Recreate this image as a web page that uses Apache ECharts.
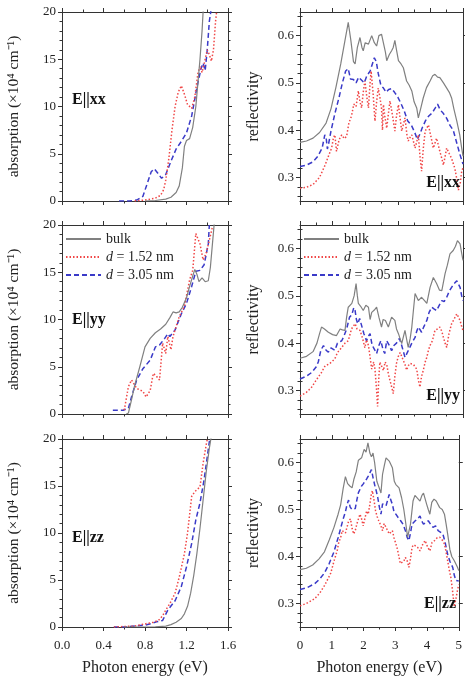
<!DOCTYPE html>
<html><head><meta charset="utf-8">
<script src="https://cdn.jsdelivr.net/npm/echarts@6/dist/echarts.min.js"></script>
<style>html,body{margin:0;padding:0;background:#fff}#c{width:465px;height:679px}</style>
</head><body><div id="c"></div>
<script>
// ---------- absorption (x1e4 cm^-1) vs photon energy (eV) ----------
const absXX_bulk = [[0.8,0],[0.9,0.05],[1.0,0.2],[1.05,0.4],[1.1,0.9],[1.13,1.6],[1.16,3.5],[1.18,5.8],[1.2,6.4],[1.23,6.6],[1.26,7.8],[1.29,10],[1.31,12.5],[1.33,15],[1.35,18],[1.36,20],[1.38,22]];
const absXX_d152 = [[0.7,0],[0.8,0.1],[0.9,0.3],[0.95,0.6],[0.98,1.2],[1.0,2.2],[1.03,4.5],[1.06,7.5],[1.09,10],[1.12,11.5],[1.15,12.2],[1.18,11.3],[1.21,10.2],[1.25,9.8],[1.28,11],[1.31,13.5],[1.33,14.3],[1.35,13.6],[1.37,14.5],[1.4,16],[1.42,15.5],[1.44,14.8],[1.46,16],[1.48,19],[1.5,21]];
const absXX_d305 = [[0.55,0],[0.65,0],[0.72,0.1],[0.78,0.5],[0.82,1.8],[0.86,3.1],[0.89,3.4],[0.92,3.0],[0.96,2.4],[1.0,2.8],[1.05,4.2],[1.1,5.5],[1.15,6.3],[1.2,7.2],[1.25,9.0],[1.3,12],[1.34,14],[1.36,14.6],[1.38,13.8],[1.4,16],[1.42,19],[1.44,20.5]];

const absYY_bulk = [[0.62,0],[0.64,0.1],[0.67,1.5],[0.7,3],[0.75,5],[0.8,7.1],[0.85,8.0],[0.9,8.6],[0.95,9.0],[1.0,9.5],[1.04,10.2],[1.07,10.8],[1.1,10.7],[1.13,10.8],[1.16,11.3],[1.2,12.3],[1.23,13.5],[1.26,14.6],[1.28,15.3],[1.3,14.8],[1.32,14.0],[1.35,14.4],[1.38,14.0],[1.41,14.1],[1.43,15.5],[1.45,18],[1.47,20.5]];
const absYY_d152 = [[0.6,0.4],[0.64,2.9],[0.67,3.6],[0.72,2.7],[0.78,2.4],[0.81,1.8],[0.85,2.5],[0.88,4.3],[0.91,4.0],[0.94,3.6],[0.97,7.5],[1.0,6.4],[1.02,8.2],[1.05,6.8],[1.07,8.2],[1.13,10.3],[1.18,11.4],[1.23,14.2],[1.26,15.2],[1.29,19.1],[1.33,18],[1.36,16.3],[1.39,17],[1.42,18.4],[1.45,19.8]];
const absYY_d305 = [[0.49,0.4],[0.59,0.4],[0.64,0.6],[0.67,1.8],[0.72,3.6],[0.78,4.8],[0.85,5.7],[0.9,7.1],[0.94,7.3],[0.99,8.0],[1.02,8.5],[1.04,8.2],[1.09,8.9],[1.15,10.6],[1.2,11.7],[1.25,13.5],[1.29,15.1],[1.33,15.2],[1.37,15.8],[1.41,18],[1.42,20]];

const absZZ_bulk = [[0.6,0],[0.8,0],[0.9,0.02],[1.0,0.1],[1.05,0.25],[1.1,0.5],[1.15,0.9],[1.18,1.4],[1.21,2.2],[1.24,3.6],[1.27,5.5],[1.3,7.8],[1.33,10.5],[1.36,13.5],[1.39,16.5],[1.42,19],[1.45,21]];
const absZZ_d152 = [[0.5,0],[0.7,0.1],[0.81,0.35],[0.88,0.5],[0.93,0.7],[0.97,1.2],[1.0,1.8],[1.04,2.5],[1.09,3.6],[1.13,5.3],[1.18,7.8],[1.21,10],[1.25,13.9],[1.28,14.4],[1.33,14.9],[1.36,17.4],[1.39,19.4],[1.41,20.5]];
const absZZ_d305 = [[0.5,0],[0.6,0],[0.8,0.2],[0.86,0.35],[0.91,0.55],[0.97,0.7],[1.02,1.8],[1.09,2.8],[1.15,4.3],[1.2,6.4],[1.25,8.9],[1.29,11.4],[1.33,13.2],[1.37,15.7],[1.41,18.9],[1.43,20.5]];

// ---------- reflectivity vs photon energy (eV) ----------
const refXX_bulk = [[0,0.374],[0.2,0.377],[0.4,0.383],[0.6,0.395],[0.8,0.415],[0.95,0.445],[1.1,0.49],[1.25,0.54],[1.38,0.59],[1.48,0.628],[1.56,0.59],[1.64,0.545],[1.69,0.54],[1.76,0.575],[1.84,0.596],[1.9,0.575],[1.94,0.568],[2.0,0.585],[2.04,0.589],[2.1,0.582],[2.2,0.6],[2.28,0.585],[2.35,0.578],[2.42,0.6],[2.5,0.603],[2.56,0.6],[2.62,0.565],[2.66,0.547],[2.74,0.56],[2.81,0.568],[2.86,0.575],[2.91,0.59],[2.96,0.57],[3.02,0.547],[3.1,0.54],[3.17,0.532],[3.27,0.504],[3.35,0.495],[3.43,0.483],[3.5,0.46],[3.58,0.447],[3.63,0.426],[3.7,0.445],[3.78,0.468],[3.88,0.49],[3.99,0.504],[4.07,0.515],[4.14,0.518],[4.22,0.512],[4.29,0.511],[4.4,0.5],[4.5,0.489],[4.58,0.48],[4.65,0.468],[4.72,0.445],[4.81,0.419],[4.9,0.39],[4.96,0.362],[5.0,0.345]];
const refXX_d152 = [[0,0.277],[0.2,0.279],[0.4,0.285],[0.6,0.3],[0.77,0.326],[0.9,0.35],[0.97,0.362],[1.03,0.385],[1.07,0.39],[1.12,0.355],[1.2,0.38],[1.28,0.39],[1.36,0.382],[1.43,0.387],[1.5,0.415],[1.58,0.43],[1.65,0.455],[1.72,0.45],[1.79,0.483],[1.84,0.46],[1.89,0.447],[1.94,0.48],[1.99,0.504],[2.05,0.47],[2.1,0.447],[2.15,0.5],[2.18,0.525],[2.24,0.48],[2.3,0.419],[2.35,0.46],[2.4,0.489],[2.45,0.47],[2.5,0.447],[2.53,0.4],[2.56,0.454],[2.6,0.43],[2.66,0.404],[2.72,0.44],[2.76,0.462],[2.84,0.43],[2.91,0.398],[2.96,0.43],[3.02,0.454],[3.08,0.42],[3.12,0.398],[3.22,0.426],[3.28,0.39],[3.32,0.377],[3.38,0.385],[3.43,0.39],[3.53,0.362],[3.58,0.375],[3.63,0.39],[3.68,0.345],[3.73,0.313],[3.78,0.36],[3.84,0.398],[3.94,0.411],[4.02,0.385],[4.09,0.362],[4.19,0.383],[4.29,0.355],[4.35,0.34],[4.4,0.326],[4.5,0.362],[4.58,0.35],[4.65,0.34],[4.75,0.319],[4.8,0.3],[4.86,0.273],[4.92,0.29],[4.96,0.313],[5.0,0.32]];
const refXX_d305 = [[0,0.323],[0.2,0.326],[0.4,0.333],[0.55,0.345],[0.68,0.362],[0.76,0.39],[0.8,0.385],[0.84,0.36],[0.88,0.372],[0.95,0.398],[1.07,0.435],[1.2,0.47],[1.3,0.5],[1.4,0.525],[1.48,0.53],[1.55,0.508],[1.64,0.507],[1.72,0.5],[1.8,0.512],[1.9,0.505],[1.97,0.5],[2.05,0.515],[2.15,0.525],[2.22,0.54],[2.28,0.553],[2.34,0.545],[2.4,0.52],[2.48,0.495],[2.56,0.489],[2.64,0.48],[2.72,0.486],[2.81,0.488],[2.9,0.48],[3.0,0.47],[3.1,0.456],[3.2,0.44],[3.3,0.42],[3.42,0.41],[3.52,0.395],[3.6,0.38],[3.68,0.392],[3.75,0.405],[3.85,0.42],[3.95,0.43],[4.05,0.436],[4.15,0.447],[4.22,0.455],[4.3,0.443],[4.4,0.435],[4.5,0.425],[4.6,0.41],[4.7,0.4],[4.8,0.375],[4.9,0.35],[5.0,0.328]];

const refYY_bulk = [[0,0.368],[0.2,0.372],[0.4,0.382],[0.52,0.4],[0.6,0.42],[0.66,0.434],[0.75,0.43],[0.87,0.423],[1.0,0.418],[1.12,0.416],[1.23,0.43],[1.3,0.428],[1.38,0.427],[1.43,0.455],[1.48,0.476],[1.59,0.484],[1.66,0.5],[1.72,0.526],[1.76,0.5],[1.79,0.484],[1.86,0.478],[1.94,0.469],[2.02,0.48],[2.1,0.476],[2.15,0.45],[2.2,0.465],[2.28,0.47],[2.35,0.476],[2.42,0.455],[2.5,0.434],[2.55,0.45],[2.62,0.448],[2.71,0.434],[2.81,0.455],[2.91,0.448],[2.96,0.43],[3.02,0.42],[3.12,0.399],[3.22,0.427],[3.28,0.405],[3.32,0.391],[3.38,0.41],[3.43,0.434],[3.48,0.47],[3.53,0.505],[3.63,0.49],[3.73,0.497],[3.82,0.49],[3.89,0.484],[3.99,0.518],[4.09,0.539],[4.19,0.526],[4.28,0.512],[4.35,0.511],[4.45,0.547],[4.52,0.565],[4.6,0.589],[4.7,0.596],[4.77,0.605],[4.83,0.617],[4.91,0.61],[4.96,0.59],[5.0,0.575]];
const refYY_d152 = [[0,0.288],[0.2,0.296],[0.36,0.307],[0.5,0.322],[0.66,0.338],[0.77,0.352],[0.87,0.355],[0.97,0.36],[1.07,0.367],[1.15,0.38],[1.28,0.391],[1.38,0.4],[1.48,0.405],[1.58,0.43],[1.69,0.441],[1.75,0.43],[1.84,0.427],[1.92,0.41],[1.99,0.39],[2.04,0.407],[2.1,0.395],[2.15,0.37],[2.2,0.345],[2.26,0.36],[2.3,0.345],[2.35,0.3],[2.38,0.266],[2.42,0.33],[2.45,0.36],[2.5,0.364],[2.56,0.342],[2.61,0.36],[2.66,0.355],[2.71,0.335],[2.76,0.321],[2.82,0.305],[2.86,0.293],[2.91,0.33],[2.96,0.357],[3.01,0.371],[3.07,0.38],[3.12,0.372],[3.17,0.363],[3.22,0.355],[3.27,0.343],[3.32,0.352],[3.37,0.357],[3.42,0.36],[3.48,0.355],[3.53,0.35],[3.58,0.345],[3.63,0.322],[3.68,0.307],[3.73,0.33],[3.78,0.342],[3.84,0.36],[3.89,0.37],[3.94,0.385],[3.99,0.395],[4.06,0.405],[4.14,0.427],[4.22,0.43],[4.29,0.434],[4.35,0.425],[4.4,0.412],[4.45,0.4],[4.5,0.391],[4.57,0.42],[4.65,0.441],[4.72,0.45],[4.81,0.462],[4.86,0.455],[4.91,0.448],[4.96,0.435],[5.0,0.427]];
const refYY_d305 = [[0,0.324],[0.2,0.33],[0.36,0.338],[0.5,0.35],[0.56,0.36],[0.64,0.385],[0.72,0.395],[0.8,0.385],[0.87,0.381],[0.95,0.39],[1.07,0.385],[1.15,0.4],[1.28,0.405],[1.35,0.415],[1.43,0.43],[1.52,0.455],[1.59,0.46],[1.65,0.475],[1.69,0.469],[1.73,0.45],[1.77,0.441],[1.83,0.452],[1.89,0.448],[1.96,0.42],[2.04,0.405],[2.1,0.415],[2.15,0.42],[2.2,0.4],[2.25,0.391],[2.35,0.378],[2.42,0.395],[2.48,0.405],[2.55,0.385],[2.6,0.378],[2.66,0.405],[2.74,0.395],[2.81,0.384],[2.88,0.395],[2.96,0.4],[3.05,0.41],[3.12,0.395],[3.22,0.37],[3.32,0.384],[3.43,0.4],[3.53,0.412],[3.58,0.425],[3.63,0.434],[3.73,0.423],[3.8,0.435],[3.89,0.448],[3.96,0.465],[4.04,0.476],[4.12,0.472],[4.19,0.469],[4.27,0.48],[4.35,0.49],[4.42,0.488],[4.5,0.497],[4.58,0.51],[4.65,0.518],[4.73,0.526],[4.81,0.532],[4.87,0.528],[4.91,0.518],[4.96,0.5],[5.0,0.49]];

const refZZ_bulk = [[0,0.372],[0.2,0.375],[0.4,0.382],[0.6,0.395],[0.77,0.41],[0.92,0.435],[1.07,0.462],[1.2,0.49],[1.28,0.51],[1.36,0.545],[1.43,0.57],[1.5,0.555],[1.57,0.55],[1.64,0.546],[1.7,0.565],[1.77,0.58],[1.84,0.605],[1.94,0.61],[2.02,0.628],[2.08,0.622],[2.14,0.642],[2.2,0.62],[2.25,0.612],[2.3,0.62],[2.35,0.6],[2.42,0.56],[2.5,0.545],[2.55,0.535],[2.6,0.575],[2.66,0.595],[2.71,0.61],[2.81,0.603],[2.91,0.589],[2.97,0.56],[3.02,0.553],[3.12,0.546],[3.2,0.525],[3.27,0.5],[3.32,0.476],[3.39,0.441],[3.44,0.445],[3.48,0.469],[3.56,0.518],[3.62,0.53],[3.68,0.532],[3.78,0.518],[3.84,0.53],[3.89,0.535],[3.99,0.511],[4.04,0.5],[4.09,0.49],[4.15,0.515],[4.22,0.522],[4.29,0.518],[4.4,0.504],[4.48,0.5],[4.55,0.49],[4.6,0.47],[4.65,0.448],[4.72,0.415],[4.78,0.4],[4.86,0.391],[4.92,0.395],[4.96,0.377],[5.0,0.37]];
const refZZ_d152 = [[0,0.295],[0.2,0.3],[0.46,0.31],[0.62,0.322],[0.77,0.338],[0.9,0.355],[0.97,0.365],[1.07,0.39],[1.17,0.412],[1.22,0.43],[1.28,0.44],[1.33,0.455],[1.38,0.451],[1.43,0.45],[1.48,0.462],[1.53,0.475],[1.59,0.48],[1.64,0.46],[1.69,0.448],[1.74,0.455],[1.79,0.469],[1.84,0.48],[1.89,0.49],[1.94,0.48],[1.99,0.465],[2.04,0.48],[2.1,0.497],[2.15,0.49],[2.2,0.511],[2.24,0.53],[2.28,0.54],[2.33,0.52],[2.38,0.497],[2.43,0.485],[2.48,0.476],[2.55,0.465],[2.6,0.455],[2.65,0.47],[2.71,0.469],[2.76,0.455],[2.81,0.448],[2.86,0.452],[2.91,0.455],[2.96,0.44],[3.02,0.427],[3.07,0.415],[3.12,0.412],[3.16,0.385],[3.22,0.384],[3.27,0.39],[3.32,0.398],[3.38,0.39],[3.43,0.377],[3.48,0.395],[3.53,0.42],[3.58,0.425],[3.63,0.427],[3.7,0.42],[3.78,0.412],[3.86,0.425],[3.94,0.434],[4.02,0.42],[4.09,0.412],[4.16,0.43],[4.24,0.434],[4.32,0.44],[4.4,0.441],[4.48,0.435],[4.55,0.427],[4.6,0.41],[4.65,0.391],[4.7,0.372],[4.75,0.356],[4.8,0.33],[4.86,0.293],[4.91,0.31],[4.96,0.328],[5.0,0.34]];
const refZZ_d305 = [[0,0.33],[0.2,0.333],[0.46,0.342],[0.62,0.352],[0.77,0.365],[0.92,0.385],[1.07,0.41],[1.2,0.44],[1.28,0.46],[1.36,0.48],[1.43,0.495],[1.48,0.51],[1.53,0.52],[1.58,0.505],[1.64,0.5],[1.7,0.498],[1.74,0.502],[1.79,0.52],[1.84,0.536],[1.89,0.54],[1.94,0.55],[2.0,0.555],[2.04,0.56],[2.1,0.565],[2.15,0.571],[2.2,0.578],[2.25,0.585],[2.3,0.568],[2.35,0.553],[2.4,0.54],[2.45,0.525],[2.5,0.505],[2.55,0.49],[2.6,0.512],[2.66,0.515],[2.71,0.508],[2.76,0.52],[2.81,0.532],[2.86,0.52],[2.91,0.511],[2.96,0.495],[3.02,0.49],[3.1,0.482],[3.17,0.476],[3.25,0.468],[3.32,0.455],[3.38,0.44],[3.43,0.434],[3.48,0.45],[3.53,0.469],[3.58,0.472],[3.63,0.476],[3.7,0.48],[3.78,0.486],[3.84,0.475],[3.89,0.469],[3.96,0.472],[4.04,0.476],[4.12,0.468],[4.19,0.462],[4.27,0.465],[4.35,0.455],[4.42,0.452],[4.5,0.448],[4.57,0.43],[4.65,0.405],[4.72,0.39],[4.81,0.377],[4.86,0.36],[4.91,0.349],[4.96,0.35],[5.0,0.348]];

// ---------- tick values / labels ----------
const reflMajorTicks = [0.3, 0.4, 0.5, 0.6];
const reflMinorTicks = [0.26,0.28,0.32,0.34,0.36,0.38,0.42,0.44,0.46,0.48,0.52,0.54,0.56,0.58,0.62,0.64];
const seriesNames = ['bulk', 'd = 1.52 nm', 'd = 3.05 nm'];
const panelLabels = ['E||xx', 'E||yy', 'E||zz'];

const FONT = '"Liberation Serif", "Times New Roman", serif';
const AX = '#333';
const COLORS = ['#808080', '#f04646', '#3a3ac8'];
const LTYPES = ['solid', [1.5, 2], [5, 3]];
const LWIDTH = [1.2, 1.5, 1.5];

const gridPos = [
  {left: 62, top: 12, width: 166, height: 189},
  {left: 300, top: 12, width: 163, height: 189},
  {left: 62, top: 225, width: 166, height: 189},
  {left: 300, top: 225, width: 163, height: 189},
  {left: 62, top: 439, width: 166, height: 188},
  {left: 300, top: 439, width: 163, height: 188}
];
const panelData = [
  [absXX_bulk, absXX_d152, absXX_d305], [refXX_bulk, refXX_d152, refXX_d305],
  [absYY_bulk, absYY_d152, absYY_d305], [refYY_bulk, refYY_d152, refYY_d305],
  [absZZ_bulk, absZZ_d152, absZZ_d305], [refZZ_bulk, refZZ_d152, refZZ_d305]
];

const baseAxis = () => ({
  type: 'value',
  axisLine: {show: true, onZero: false, lineStyle: {color: AX, width: 1}},
  axisTick: {show: true, inside: false, length: 4, lineStyle: {color: AX, width: 1}},
  minorTick: {show: false},
  splitLine: {show: false},
  axisLabel: {show: false},
});

const xAxes = [], yAxes = [], series = [];
gridPos.forEach((g, gi) => {
  const isRefl = gi % 2 === 1;
  const row = Math.floor(gi / 2);
  const xIdx = xAxes.length;
  ['bottom', 'top'].forEach(pos => {
    const a = Object.assign(baseAxis(), {
      gridIndex: gi, position: pos,
      min: 0, max: isRefl ? 5 : 1.6, interval: isRefl ? 1 : 0.4,
      minorTick: {show: true, splitNumber: 2, length: 2.5, lineStyle: {color: AX, width: 1}}
    });
    if (pos === 'bottom' && row === 2) {
      a.axisLabel = {show: true, fontFamily: FONT, fontSize: 13, color: '#222', margin: 12,
        formatter: v => isRefl ? String(Math.round(v)) : v.toFixed(1)};
      a.name = 'Photon energy (eV)';
      a.nameLocation = 'middle';
      a.nameGap = 33;
      a.nameTextStyle = {fontFamily: FONT, fontSize: 16, color: '#222'};
    }
    xAxes.push(a);
  });
  const yIdx = yAxes.length;
  if (!isRefl) {
    ['left', 'right'].forEach(pos => {
      const a = Object.assign(baseAxis(), {
        gridIndex: gi, position: pos, min: 0, max: 20, interval: 5,
        minorTick: {show: true, splitNumber: 5, length: 2.5, lineStyle: {color: AX, width: 1}}
      });
      if (pos === 'left') {
        a.axisLabel = {show: true, fontFamily: FONT, fontSize: 13, color: '#222', margin: 6};
        a.name = 'absorption (×10⁴ cm⁻¹)';
        a.nameLocation = 'middle';
        a.nameGap = 40;
        a.nameTextStyle = {fontFamily: FONT, fontSize: 15.5, color: '#222'};
      }
      yAxes.push(a);
    });
  } else {
    ['left', 'right'].forEach(pos => {
      const a = Object.assign(baseAxis(), {
        gridIndex: gi, position: pos, min: 0.25, max: 0.65,
        axisTick: {show: true, length: 4, customValues: reflMajorTicks, lineStyle: {color: AX, width: 1}}
      });
      if (pos === 'left') {
        a.axisLabel = {show: true, fontFamily: FONT, fontSize: 13, color: '#222', margin: 6,
          customValues: reflMajorTicks, formatter: v => v.toFixed(1)};
        a.name = 'reflectivity';
        a.nameLocation = 'middle';
        a.nameGap = 38;
        a.nameTextStyle = {fontFamily: FONT, fontSize: 16, color: '#222'};
      } else {
        a.axisLabel = {show: false, customValues: reflMajorTicks};
      }
      yAxes.push(a);
      const m = Object.assign(baseAxis(), {
        gridIndex: gi, position: pos, min: 0.25, max: 0.65,
        axisLine: {show: false},
        axisTick: {show: true, length: 2.5, customValues: reflMinorTicks, lineStyle: {color: AX, width: 1}},
        axisLabel: {show: false, customValues: reflMinorTicks}
      });
      yAxes.push(m);
    });
  }
  panelData[gi].forEach((d, si) => {
    series.push({
      type: 'line', name: seriesNames[si], xAxisIndex: xIdx, yAxisIndex: yIdx,
      data: d, symbol: 'none', showSymbol: false, smooth: false, clip: true, animation: false,
      lineStyle: {color: COLORS[si], width: LWIDTH[si], type: LTYPES[si]},
      itemStyle: {color: COLORS[si]}, z: 3 - si
    });
  });
});

const legendCommon = {
  orient: 'vertical', itemWidth: 35, itemHeight: 12, itemGap: 4, padding: 0,
  data: seriesNames, selectedMode: false,
  itemStyle: {opacity: 0},
  textStyle: {fontFamily: FONT, fontSize: 14, color: '#222',
    rich: {i: {fontFamily: FONT, fontSize: 14, fontStyle: 'italic', color: '#222'}}},
  formatter: n => n.startsWith('d ') ? '{i|d}' + n.slice(1) : n
};

const labelPos = [
  {x: 72, y: 100, align: 'left'}, {x: 460, y: 183, align: 'right'},
  {x: 72, y: 320, align: 'left'}, {x: 460, y: 396, align: 'right'},
  {x: 72, y: 538, align: 'left'}, {x: 456, y: 604, align: 'right'}
];
const graphics = labelPos.map((p, i) => ({
  type: 'text', x: p.x, y: p.y, z: 10,
  style: {text: panelLabels[Math.floor(i / 2)], fill: '#111', font: 'bold 16px ' + FONT,
    textAlign: p.align, textVerticalAlign: 'middle'}
}));

const chart = echarts.init(document.getElementById('c'), null, {renderer: 'canvas'});
chart.setOption({
  animation: false,
  backgroundColor: '#fff',
  grid: gridPos.map(g => Object.assign({containLabel: false}, g)),
  xAxis: xAxes,
  yAxis: yAxes,
  series: series,
  legend: [
    Object.assign({left: 65, top: 232}, legendCommon),
    Object.assign({left: 303, top: 232}, legendCommon)
  ],
  graphic: graphics
});
</script></body></html>
